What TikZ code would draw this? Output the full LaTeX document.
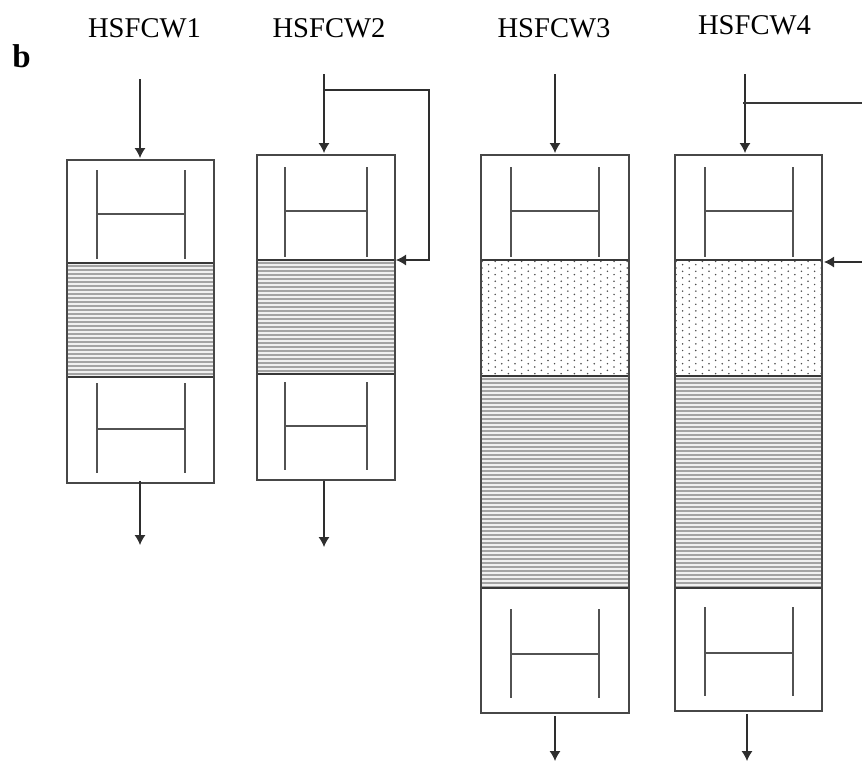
\documentclass[tikz,border=0pt]{standalone}
\usepackage{fontspec}
\setmainfont{Liberation Serif}
\usetikzlibrary{arrows.meta}
\tikzset{
  wall/.style={draw=black!72,line width=1.05pt},
  zone/.style={draw=black!78,line width=1.1pt,fill=none},
  inner/.style={draw=black!68,line width=1.05pt},
  flow/.style={draw=black!82,line width=1.05pt,-{Latex[length=10pt,width=11pt]}},
  pipe/.style={draw=black!78,line width=1.05pt},
  title/.style={font=\fontsize{28.6}{32}\selectfont,text=black,inner sep=0pt},
  hatchline/.style={draw=black!36,line width=1.4pt},
}
% \hatchzone{x1}{y1}{x2}{y2}
\newcommand{\hatchzone}[4]{%
  \begin{scope}
    \clip (#1,#2) rectangle (#3,#4);
    \fill[black!6] (#1,#2) rectangle (#3,#4);
    \pgfmathsetmacro{\ystart}{#2+3}\pgfmathsetmacro{\ynext}{#2+7}
    \foreach \yy in {\ystart,\ynext,...,#4}{\draw[hatchline] (#1,\yy) -- (#3,\yy);}
  \end{scope}
  \draw[zone] (#1,#2) rectangle (#3,#4);}
% \dotzone{x1}{y1}{x2}{y2}
\newcommand{\dotzone}[4]{%
  \begin{scope}
    \clip (#1,#2) rectangle (#3,#4);
    \foreach \r in {0,...,35}{
      \pgfmathsetmacro{\yy}{#2+1.4+3.3*\r}
      \pgfmathsetmacro{\xs}{#1+1+6.6*mod(\r,2)}
      \foreach \c in {0,...,11}{
        \fill[black!70] ({\xs+13.2*\c},\yy) circle (0.85pt);
      }
    }
  \end{scope}
  \draw[zone] (#1,#2) rectangle (#3,#4);}
% \hmark{xl}{xr}{ytop}{ybot}{ybar}
\newcommand{\hmark}[5]{%
  \draw[inner] (#1,#3) -- (#1,#4);
  \draw[inner] (#2,#3) -- (#2,#4);
  \draw[inner] (#1,#5) -- (#2,#5);}
\begin{document}
\begin{tikzpicture}[x=1pt,y=-1pt]
\useasboundingbox (0,0) rectangle (862,761);
% labels
\node[title] (t1) at (144.5,28) {HSFCW1};
\node[title] (t2) at (329,28) {HSFCW2};
\node[title] (t3) at (554,28) {HSFCW3};
\node[title] (t4) at (754.5,25.5) {HSFCW4};
\node[title,font=\fontsize{33}{36}\selectfont\bfseries] (b) at (21.5,56) {b};
% column 1
\hatchzone{67}{263}{214}{377}
\draw[wall] (67,160) rectangle (214,483);
\hmark{97}{185}{170}{259}{214}
\hmark{97}{185}{383}{473}{429}
% column 2
\hatchzone{257}{260}{395}{374}
\draw[wall] (257,155) rectangle (395,480);
\hmark{285}{367}{167}{257}{211}
\hmark{285}{367}{382}{470}{426}
% column 3
\dotzone{481}{260}{629}{376}
\hatchzone{481}{376}{629}{588}
\draw[wall] (481,155) rectangle (629,713);
\hmark{511}{599}{167}{257}{211}
\hmark{511}{599}{609}{698}{654}
% column 4
\dotzone{675}{260}{822}{376}
\hatchzone{675}{376}{822}{588}
\draw[wall] (675,155) rectangle (822,711);
\hmark{705}{793}{167}{257}{211}
\hmark{705}{793}{607}{696}{653}
% named connection points
\coordinate (in1a) at (140,79);  \coordinate (in1b) at (140,158);
\coordinate (out1a) at (140,481); \coordinate (out1b) at (140,545);
\coordinate (in2a) at (324,74);  \coordinate (in2b) at (324,153);
\coordinate (out2a) at (324,481); \coordinate (out2b) at (324,547);
\coordinate (in3a) at (555,74);  \coordinate (in3b) at (555,153);
\coordinate (out3a) at (555,716); \coordinate (out3b) at (555,761);
\coordinate (in4a) at (745,74);  \coordinate (in4b) at (745,153);
\coordinate (out4a) at (747,714); \coordinate (out4b) at (747,761);
\coordinate (br2a) at (323,90); \coordinate (br2b) at (429,90);
\coordinate (br2c) at (429,260); \coordinate (br2d) at (396,260);
\coordinate (br4a) at (743,103); \coordinate (br4b) at (862,103);
\coordinate (br4c) at (862,262); \coordinate (br4d) at (824,262);
% connectors
\draw[flow] (in1a) -- (in1b);
\draw[flow] (out1a) -- (out1b);
\draw[flow] (in2a) -- (in2b);
\draw[flow] (out2a) -- (out2b);
\draw[flow] (in3a) -- (in3b);
\draw[flow] (out3a) -- (out3b);
\draw[flow] (in4a) -- (in4b);
\draw[flow] (out4a) -- (out4b);
\draw[flow] (br2a) -- (br2b) -- (br2c) -- (br2d);
\draw[pipe] (br4a) -- (br4b);
\draw[flow] (br4c) -- (br4d);
\end{tikzpicture}
\end{document}
